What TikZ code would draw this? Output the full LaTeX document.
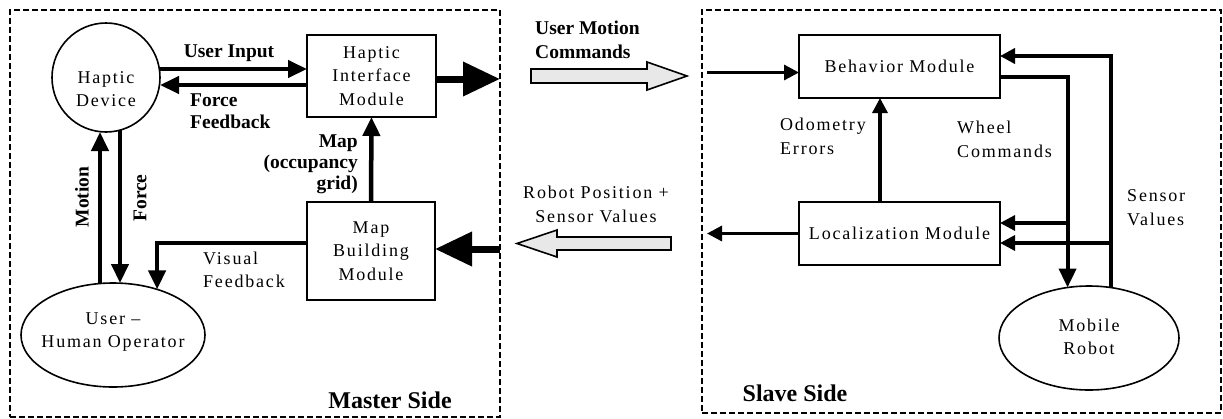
\documentclass[tikz,border=0pt]{standalone}
\usepackage{fontspec}
\setmainfont{Liberation Serif}
\newfontfamily\regfont{Liberation Serif}[LetterSpace=10.0,Ligatures=TeX]
\usetikzlibrary{arrows.meta,calc,shapes.geometric}
\begin{document}
\begin{tikzpicture}[x=1pt,y=-1pt,
  reg/.style={font=\regfont\fontsize{18}{23.5}\selectfont},
  bld/.style={font=\bfseries\fontsize{19.5}{22}\selectfont},
  sidelbl/.style={font=\bfseries\fontsize{24}{28}\selectfont, inner sep=0pt},
  boxnode/.style={draw, line width=1.6pt, reg, align=center, inner sep=0pt, outer sep=0pt},
  ellnode/.style={ellipse, draw, line width=1.6pt, inner sep=0pt, outer sep=0pt},
  sidebox/.style={draw, dash pattern=on 6pt off 3pt, line width=2.4pt, inner sep=0pt, outer sep=0pt},
  arr/.style={line width=4.5pt, -{Triangle[length=19pt,width=17pt]}},
  arrs/.style={line width=3.2pt, -{Triangle[length=15pt,width=15pt]}},
  bigarr/.style={line width=7pt, -{Triangle[length=37pt,width=33pt]}},
  blockarr/.style={draw, line width=1.6pt, fill=gray!18, line join=miter},
  lbl/.style={inner sep=0pt}
]
\useasboundingbox (0,0) rectangle (1223,418);

% containers
\node[sidebox, minimum width=490pt, minimum height=407pt] (master) at (255,213.5) {};
\node[sidebox, minimum width=519pt, minimum height=403pt] (slave) at (961.5,211.5) {};

% master side nodes
\node[ellnode, minimum width=108pt, minimum height=109pt] (hd) at (106,77.5) {};
\node[reg, align=center, inner sep=0pt] (hdt) at (106,89) {Haptic\\Device};
\node[boxnode, minimum width=129pt, minimum height=82pt] (him) at (371.5,76) {Haptic\\Interface\\Module};
\node[boxnode, minimum width=128pt, minimum height=98pt] (mbm) at (371,251) {Map\\Building\\Module};
\node[ellnode, minimum width=184pt, minimum height=104pt] (uho) at (113,335) {};
\node[reg, align=center, inner sep=0pt] (uhot) at (113,332) {User --\\Human Operator};

% slave side nodes
\node[boxnode, minimum width=201pt, minimum height=63pt] (beh) at (899.5,66.5) {Behavior Module};
\node[boxnode, minimum width=201pt, minimum height=63pt] (loc) at (899.5,233.5) {Localization Module};
\node[ellnode, minimum width=180pt, minimum height=104pt] (mr) at (1089,338) {};
\node[reg, align=center, inner sep=0pt] (mrt) at (1089,337) {Mobile\\Robot};

% master connectors
\coordinate (ui) at ([yshift=7pt]him.west);
\draw[arr] (ui -| hd.east) -- (ui);
\coordinate (ff) at ([yshift=-9pt]him.west);
\draw[arr] (ff) -- (ff -| hd.east);
\coordinate (ho) at ([yshift=-3pt]him.east);
\draw[bigarr] (ho) -- (ho -| master.east);
\coordinate (mi) at ([yshift=2pt]mbm.east);
\draw[bigarr] (mi -| master.east) -- (mi);
\draw[arr] (mbm.north) -- (him.south);
\coordinate (mo) at ([xshift=-6pt]hd.south);
\draw[arr] (mo |- uho.north) -- (mo);
\coordinate (fo) at ([xshift=14pt,yshift=2pt]hd.south);
\draw[arr] (fo) -- (fo |- uho.north);
\coordinate (vf) at ([yshift=8pt]mbm.west);
\draw[arr] (vf) -| (uho.46);

% slave connectors
\coordinate (sl) at ([xshift=5pt]slave.west);
\coordinate (bi) at ([yshift=-6pt]beh.west);
\draw[arrs] (bi -| sl) -- (bi);
\draw[arrs] (loc.west) -- (loc.west -| sl);
\draw[arrs] ([xshift=-19.5pt]loc.north) -- ([xshift=-19.5pt]beh.south);
\draw[arr, line width=4pt] ([yshift=-10.5pt]beh.east) -| (mr.113);
\coordinate (sv) at ([yshift=10.5pt]beh.east);
\draw[arrs, line width=4pt] (mr.66) |- (sv);
\coordinate (w2) at ([yshift=10.5pt]loc.east);
\draw[arrs] (w2 -| mr.113) -- (w2);
\coordinate (s2) at ([yshift=-9.5pt]loc.east);
\draw[arrs] (s2 -| mr.66) -- (s2);

% block arrows between sides
\draw[blockarr] (531,69) -- (647,69) -- (647,62) -- (687,76) -- (647,90) -- (647,83) -- (531,83) -- cycle;
\draw[blockarr] (671,237) -- (557,237) -- (557,230) -- (517,243.5) -- (557,257) -- (557,250) -- (671,250) -- cycle;

% labels
\node[bld, lbl] (lui) at (229,53) {User Input};
\node[bld, lbl, align=left, anchor=west] (lff) at (190,111) {Force\\Feedback};
\node[bld, lbl, align=right, anchor=east, font=\bfseries\fontsize{19.5}{21}\selectfont] (lmap) at (358,164) {Map\\(occupancy\\grid)};
\node[bld, lbl, rotate=90] (lmo) at (82,197) {Motion};
\node[bld, lbl, rotate=90] (lfo) at (140,198) {Force};
\node[reg, lbl, align=left, anchor=west] (lvf) at (203,270) {Visual\\Feedback};
\node[bld, lbl, align=left, anchor=west, font=\bfseries\fontsize{19.5}{24}\selectfont] (lumc) at (535,40) {User Motion\\Commands};
\node[reg, lbl, align=center] (lrp) at (596,204.5) {Robot Position +\\Sensor Values};
\node[reg, lbl, align=left, anchor=west] (lod) at (780,136.5) {Odometry\\Errors};
\node[reg, lbl, align=left, anchor=west] (lwc) at (957,139.5) {Wheel\\Commands};
\node[reg, lbl, align=left, anchor=west] (lsv) at (1127,207.5) {Sensor\\Values};
\node[sidelbl] (lms) at (390,400) {Master Side};
\node[sidelbl] (lss) at (795,393) {Slave Side};
\end{tikzpicture}
\end{document}
